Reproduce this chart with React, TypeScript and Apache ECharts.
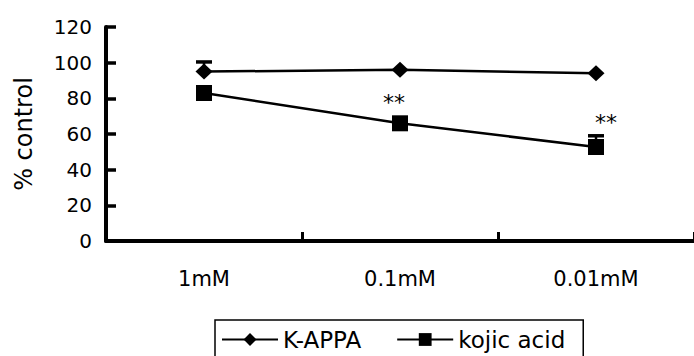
import React, { useEffect, useRef } from "react";
import * as echarts from "echarts";

const categories = ["1mM", "0.1mM", "0.01mM"];
const kappa = [95, 96, 94];
const kappaUpper = [100.4, 96, 94];
const kojic = [83, 66, 52.7];
const kojicUpper = [83, 66, 59];
const kojicMarks = ["", "**", "**"];
const yTicks = [0, 20, 40, 60, 80, 100, 120];

const FONT = "DejaVu Sans, Verdana, sans-serif";

function errorSeries(means: number[], uppers: number[]) {
  return {
    type: "custom",
    z: 1,
    silent: true,
    data: means.map((m, i) => [i, m, uppers[i]]),
    renderItem: (params: any, api: any) => {
      const x = api.value(0);
      if (api.value(2) <= api.value(1)) return { type: "group", children: [] };
      const lo = api.coord([x, api.value(1)]);
      const hi = api.coord([x, api.value(2)]);
      const w = 8;
      return {
        type: "group",
        children: [
          { type: "line", shape: { x1: lo[0], y1: lo[1], x2: hi[0], y2: hi[1] }, style: { stroke: "#000", lineWidth: 2.5 } },
          { type: "line", shape: { x1: hi[0] - w, y1: hi[1], x2: hi[0] + w, y2: hi[1] }, style: { stroke: "#000", lineWidth: 3.5 } },
        ],
      };
    },
  };
}

export default function App() {
  const ref = useRef<HTMLDivElement>(null);
  useEffect(() => {
    const chart = echarts.init(ref.current!, null, { renderer: "svg" });
    chart.setOption({
      animation: false,
      backgroundColor: "#fff",
      textStyle: { fontFamily: FONT },
      grid: { left: 106, right: 0, top: 27, bottom: 115 },
      xAxis: {
        type: "category",
        data: categories,
        boundaryGap: true,
        axisLine: { lineStyle: { color: "#000", width: 4 } },
        axisTick: { show: true, inside: true, length: 9, lineStyle: { color: "#000", width: 3 } },
        axisLabel: { color: "#000", fontSize: 21, margin: 27, fontFamily: FONT },
      },
      yAxis: {
        type: "value",
        min: yTicks[0],
        max: yTicks[yTicks.length - 1],
        interval: 20,
        name: "% control",
        nameLocation: "middle",
        nameGap: 70,
        nameTextStyle: { color: "#000", fontSize: 24, fontFamily: FONT },
        axisLine: { show: true, lineStyle: { color: "#000", width: 4 } },
        axisTick: { show: true, inside: true, length: 10, lineStyle: { color: "#000", width: 3.5 } },
        axisLabel: { color: "#000", fontSize: 20, margin: 14, fontFamily: FONT },
        splitLine: { show: false },
      },
      legend: {
        left: 215,
        top: 320,
        itemWidth: 56,
        itemHeight: 16,
        itemGap: 35,
        padding: [8, 18, 12, 6],
        borderColor: "#000",
        borderWidth: 1.5,
        borderRadius: 0,
        textStyle: { color: "#000", fontSize: 23, fontFamily: FONT },
        data: ["K-APPA", "kojic acid"],
      },
      series: [
        errorSeries(kappa, kappaUpper),
        errorSeries(kojic, kojicUpper),
        {
          name: "K-APPA",
          type: "line",
          data: kappa,
          symbol: "diamond",
          symbolSize: [17, 16],
          itemStyle: { color: "#000" },
          lineStyle: { color: "#000", width: 2.5 },
          z: 3,
        },
        {
          name: "kojic acid",
          type: "line",
          data: kojic.map((v, i) => ({
            value: v,
            label: {
              show: kojicMarks[i] !== "",
              formatter: kojicMarks[i],
              position: "top",
              distance: i === 2 ? 6 : 2,
              offset: i === 2 ? [10, 0] : [-6, 0],
              color: "#000",
              fontSize: 22,
              fontFamily: FONT,
            },
          })),
          symbol: "rect",
          symbolSize: 16,
          itemStyle: { color: "#000" },
          lineStyle: { color: "#000", width: 2.5 },
          z: 3,
        },
      ],
    });
    return () => chart.dispose();
  }, []);
  return <div ref={ref} style={{ width: 694, height: 356, position: "absolute", left: 0, top: 0 }} />;
}
